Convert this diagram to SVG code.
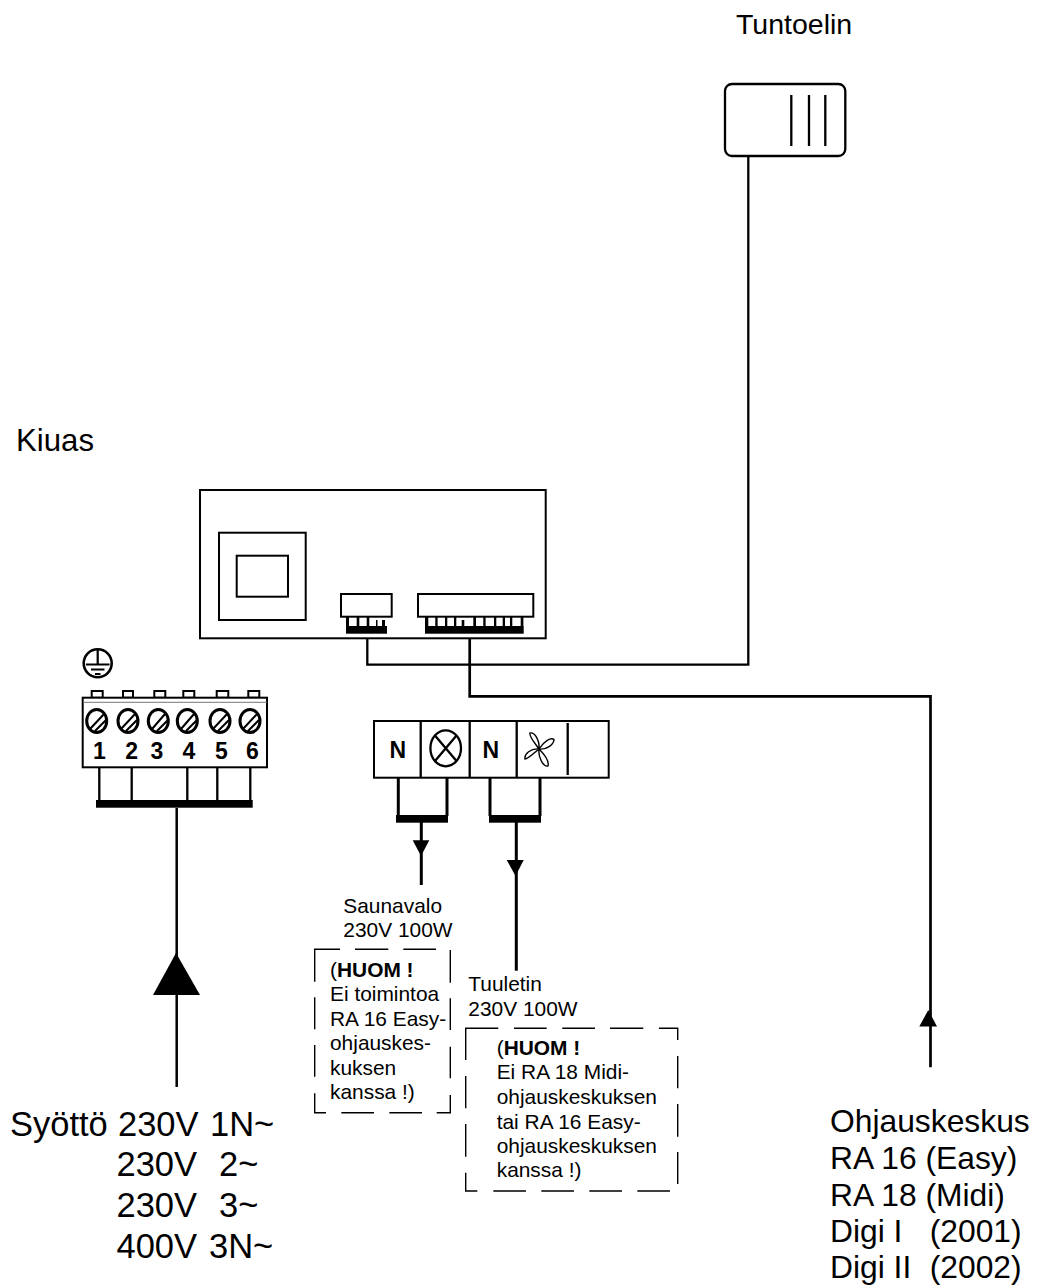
<svg xmlns="http://www.w3.org/2000/svg" width="1037" height="1288" viewBox="0 0 1037 1288">
<style>
text{font-family:"Liberation Sans",Arial,sans-serif;fill:#000}
.l{font-size:28.5px}
.k{font-size:31.2px}
.x{font-size:31.8px}
.y{font-size:34.5px}
.s{font-size:20.9px}
.n{font-size:23px;font-weight:bold;text-anchor:middle}
.o{fill:#fff;stroke:#000;stroke-width:2}
.f{fill:#000;stroke:none}
.w{fill:none;stroke:#000;stroke-width:2.3}
.t{fill:none;stroke:#000;stroke-width:3}
.d{fill:none;stroke:#000;stroke-width:1.4}
</style>
<rect width="1037" height="1288" fill="#fff"/>
<g id="connectors">
<path class="w" d="M367.300 634V664.700H748.300V155"/>
<path class="t" d="M469.700 634V696.300H930.500V1067.300" style="stroke-width:2.700"/>
<path class="w" d="M176.700 808V1087" style="stroke-width:2.500"/>
<polygon class="f" points="176,953 200,995 153,995"/>
<polygon class="f" points="928.300,1010 937,1026.500 919.300,1026.500"/>
<path class="t" d="M421.300 822V885"/>
<polygon class="f" points="421,856 412.700,840.300 429.300,840.300"/>
<path class="t" d="M516.300 822V970.700"/>
<polygon class="f" points="515.500,876 506.700,860 523.700,860"/>
</g>
<g id="tuntoelin">
<text class="l" x="736" y="34">Tuntoelin</text>
<rect class="w" x="725" y="84" width="120.300" height="72" rx="7"/>
<path class="w" d="M791.300 95V146M809 95V146M825.300 95V146"/>
</g>
<g id="kiuas">
<text class="k" x="16" y="451">Kiuas</text>
<rect class="o" x="200" y="490" width="345.700" height="148.300"/>
<rect class="o" x="219" y="532.700" width="86.700" height="87.300"/>
<rect class="o" x="236.700" y="555.700" width="51.300" height="41"/>
</g>
<g id="connector-a">
<rect class="o" x="341" y="594" width="50.700" height="22.700"/>
<rect class="f" x="346" y="626" width="41" height="7.700"/>
<path class="f" d="M346 617h3v9h-3zM356.700 617h2.600v9h-2.600zM366.700 617h2.600v9h-2.600zM376 620h1.500v6h-1.500zM382 620h3v6h-3z"/>
</g>
<g id="connector-b">
<rect class="o" x="418" y="594" width="115.300" height="22.700"/>
<rect class="f" x="425" y="626" width="98.700" height="7.700"/>
<path class="f" d="M425 617h3.300v9h-3.300zM435.300 617h2.300v9h-2.300zM445 617h2.300v9h-2.300zM454 617h2.300v9h-2.300zM461.700 620h2.600v6h-2.600zM473.300 617h2.700v9h-2.700zM483.300 617h2.300v9h-2.300zM494 617h2.300v9h-2.300zM502.700 617h2.300v9h-2.300zM510 617h2.300v9h-2.300zM520.700 617h2.700v9h-2.700z"/>
</g>
<g id="ground">
<circle class="t" cx="97.700" cy="663.300" r="14" style="stroke-width:2.600"/>
<path class="t" d="M97.700 650V664M86 664.500H109.500M91 669.500H104.500M95 674H100.500" style="stroke-width:2.200"/>
</g>
<g id="terminal">
<path class="o" d="M91.700 691h11v6.700h-11zM123 691h10v6.700h-10zM154.300 691h11v6.700h-11zM183.300 691h11v6.700h-11zM216.700 691h11.600v6.700h-11.600zM248.300 691h11v6.700h-11z"/>
<rect class="o" x="82.700" y="697.700" width="184.300" height="69.600"/>
<path d="M83 702.300H267" stroke="#777" stroke-width="1" fill="none"/>
<g id="screws">
<ellipse class="t" cx="96.700" cy="721" rx="10" ry="11.500"/>
<ellipse class="t" cx="128" cy="721" rx="10" ry="11.500"/>
<ellipse class="t" cx="158.300" cy="721" rx="10" ry="11.500"/>
<ellipse class="t" cx="187.300" cy="721" rx="10" ry="11.500"/>
<ellipse class="t" cx="220" cy="721" rx="10" ry="11.500"/>
<ellipse class="t" cx="250" cy="721" rx="10" ry="11.500"/>
<path class="w" style="stroke-width:2" d="M90 729L104 714M95 731L106 720M121 729L135 714M126 731L137 720M152 729L165 714M157 731L168 720M181 729L194 714M186 731L197 720M213 729L227 714M218 731L229 720M243 729L257 714M248 731L259 720"/>
</g>
<text class="n" x="99.300" y="759.300">1</text>
<text class="n" x="131.700" y="759.300">2</text>
<text class="n" x="157" y="759.300">3</text>
<text class="n" x="189" y="759.300">4</text>
<text class="n" x="221.300" y="759.300">5</text>
<text class="n" x="252.300" y="759.300">6</text>
<path class="w" d="M99.300 767V801M131.700 767V801M187.300 767V801M217.300 767V801M250.300 767V801"/>
<rect class="f" x="96" y="800" width="156.700" height="7.700"/>
</g>
<g id="panel">
<rect class="o" x="374" y="721" width="234.700" height="56.700"/>
<path class="w" d="M420.700 721V778M469.700 721V778M516.700 721V778M567.700 723V775"/>
<text class="n" x="397.700" y="757.700">N</text>
<text class="n" x="490.700" y="757.700">N</text>
<ellipse class="w" cx="445.700" cy="748.300" rx="15.300" ry="18"/>
<path class="w" d="M435 735.500L456.500 761M456.500 735.500L435 761"/>
<path fill="none" stroke="#000" stroke-width="1.400" d="M539 749C535 743 529 737 530 733C535 732 540 741 539 749ZM539 749C544 741 551 737 554 739.500C554 744 547 750 539 749ZM539 749C545 755 549 762 548 766C543 767 538 757 539 749ZM539 749C533 754 528 759 525 759C524 754 531 748 539 749Z"/>
<path class="t" d="M398.300 777V816M447 777V816M490 777V816M540 777V816"/>
<rect class="f" x="396" y="815" width="52" height="7.700"/>
<rect class="f" x="489" y="815" width="52" height="7.700"/>
</g>
<g id="saunavalo">
<text class="s" x="343.300" y="912.700">Saunavalo</text>
<text class="s" x="343.300" y="936.700">230V 100W</text>
<path class="d" d="M340 949.300H314.700V981.700M355 949.300H388.300M403.300 949.300H436M450.300 950V982.700M450.300 998.300V1030M450.300 1046.700V1078.300M450.300 1095V1112.700H436.700M422 1112.700H389.300M374 1112.700H341.300M326 1112.700H314.700V1093.300M314.700 1076.700V1045M314.700 1029.300V997.300"/>
<text class="s" x="330" y="976.700">(<tspan font-weight="bold">HUOM !</tspan></text>
<text class="s" x="330" y="1000.700">Ei toimintoa</text>
<text class="s" x="330" y="1025.700">RA 16 Easy-</text>
<text class="s" x="330" y="1049.700">ohjauskes-</text>
<text class="s" x="330" y="1074.700">kuksen</text>
<text class="s" x="330" y="1099">kanssa !)</text>
</g>
<g id="tuuletin">
<text class="s" x="468.300" y="990.700">Tuuletin</text>
<text class="s" x="468.300" y="1015.700">230V 100W</text>
<path class="d" d="M465.700 1060V1028.300H498.300M514 1028.300H546.700M562.300 1028.300H595M610 1028.300H643.300M659 1028.300H677.700V1040M677.700 1056V1088.300M677.700 1104V1136.700M677.700 1152V1184M670 1191H637.300M622 1191H589.300M574 1191H541.300M526 1191H493.300M477.300 1191H465.700V1172.700M465.700 1156.700V1124M465.700 1108.300V1076"/>
<text class="s" x="496.700" y="1055">(<tspan font-weight="bold">HUOM !</tspan></text>
<text class="s" x="496.700" y="1079.300">Ei RA 18 Midi-</text>
<text class="s" x="496.700" y="1104.300">ohjauskeskuksen</text>
<text class="s" x="496.700" y="1128.700">tai RA 16 Easy-</text>
<text class="s" x="496.700" y="1152.700">ohjauskeskuksen</text>
<text class="s" x="496.700" y="1177">kanssa !)</text>
</g>
<g id="syotto">
<text class="y" x="10" y="1135.700">Syöttö <tspan x="118">230V</tspan> <tspan x="210">1N~</tspan></text>
<text class="y" x="116.500" y="1176">230V <tspan x="219">2~</tspan></text>
<text class="y" x="116.500" y="1217.300">230V <tspan x="219">3~</tspan></text>
<text class="y" x="116.500" y="1258.300">400V <tspan x="209">3N~</tspan></text>
</g>
<g id="ohjauskeskus">
<text class="x" x="830" y="1131.700">Ohjauskeskus</text>
<text class="x" x="830" y="1168.700">RA 16 (Easy)</text>
<text class="x" x="830" y="1206">RA 18 (Midi)</text>
<text class="x" x="830" y="1242.300">Digi I <tspan x="929.700">(2001)</tspan></text>
<text class="x" x="830" y="1278.300">Digi II <tspan x="929.700">(2002)</tspan></text>
</g>
</svg>
